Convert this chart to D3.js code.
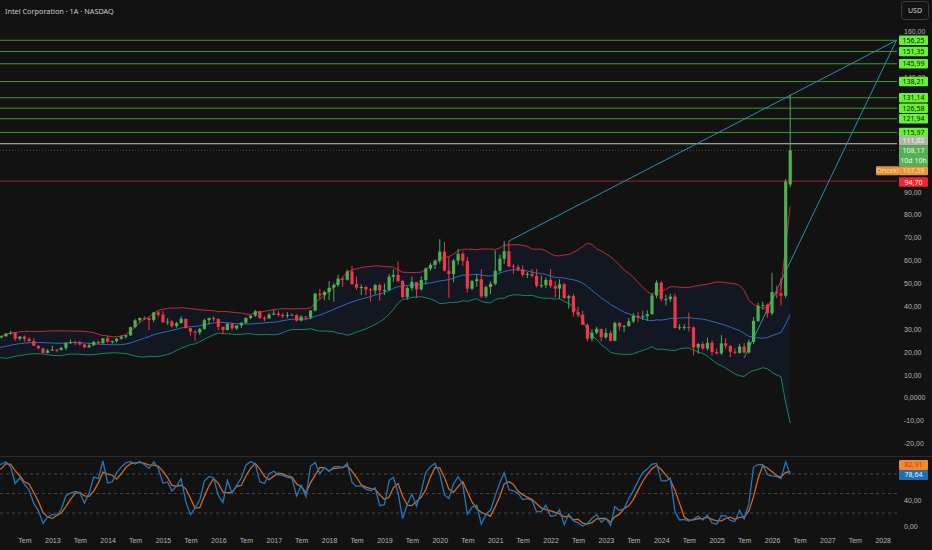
<!DOCTYPE html>
<html>
<head>
<meta charset="UTF-8">
<title>Intel Corporation · 1A · NASDAQ</title>
<script src="https://cdn.jsdelivr.net/npm/d3@7"></script>
<style>
  html, body { margin: 0; padding: 0; background: #121212; }
  svg { display: block; font-family: "Noto Sans", "Open Sans", sans-serif; }
  .axis text { fill: #b2b5be; font-size: 7px; }
  .axis path, .axis line { display: none; }
</style>
</head>
<body>
<svg width="932" height="550"></svg>
<script>
// monthly INTC candles, one row per year (2008-2011 only feed the indicators)
var years = [2008, 2009, 2010, 2011, 2012, 2013, 2014, 2015, 2016, 2017, 2018, 2019, 2020, 2021, 2022, 2023, 2024, 2025, 2026];

var opens = [
  [26.66, 21.20, 19.95, 21.18, 22.26, 23.18, 21.48, 22.19, 22.87, 18.73, 16.00, 13.80],
  [14.66, 12.90, 12.74, 15.03, 15.78, 15.72, 16.55, 19.25, 20.32, 19.57, 19.11, 19.20],
  [20.40, 19.40, 20.53, 22.29, 22.83, 21.42, 19.45, 20.60, 17.65, 19.20, 20.07, 21.15],
  [21.03, 21.46, 21.47, 20.18, 23.19, 22.51, 22.16, 22.33, 20.12, 21.34, 24.54, 24.91],
  [24.25, 26.4, 26.9, 28.1, 28.4, 25.8, 26.7, 25.7, 24.8, 22.7, 21.6, 19.6],
  [20.6, 21.0, 20.9, 21.8, 23.9, 24.3, 24.2, 23.3, 22.0, 22.9, 24.4, 23.8],
  [26.0, 24.5, 24.8, 25.8, 26.7, 27.3, 30.9, 33.9, 34.9, 34.8, 34.0, 37.3],
  [36.3, 33.0, 33.3, 31.3, 32.6, 34.5, 30.4, 28.9, 28.5, 30.1, 33.9, 34.8],
  [34.5, 31.0, 29.6, 32.4, 30.3, 31.6, 32.8, 34.9, 35.9, 37.8, 34.9, 34.7],
  [36.3, 36.8, 36.2, 36.1, 36.2, 36.1, 33.7, 35.5, 35.1, 38.1, 45.5, 44.8],
  [46.2, 48.1, 49.3, 52.1, 51.6, 55.2, 49.7, 48.1, 48.4, 47.3, 46.9, 49.3],
  [46.9, 47.1, 52.9, 53.7, 51.0, 44.0, 47.9, 50.6, 47.4, 51.5, 56.5, 58.1],
  [59.9, 63.9, 55.5, 54.1, 60.0, 62.9, 59.8, 47.7, 51.0, 51.8, 44.3, 48.4],
  [49.8, 55.5, 60.8, 64.0, 57.5, 57.1, 56.1, 53.7, 54.1, 53.3, 49.0, 49.2],
  [51.5, 48.8, 47.7, 49.6, 43.6, 44.4, 37.4, 36.3, 31.9, 25.8, 28.4, 30.1],
  [26.4, 28.3, 24.9, 32.7, 31.1, 31.4, 33.4, 35.8, 35.1, 35.6, 36.5, 44.7],
  [50.3, 43.1, 43.1, 44.2, 30.5, 30.8, 31.0, 30.7, 22.0, 23.5, 21.5, 24.0],
  [20.0, 19.4, 23.8, 22.7, 20.1, 19.6, 22.4, 19.8, 24.4, 33.6, 40.2, 40.6],
  [36.9, 46.2, 45.7, 44.6, 93.2]
];
var highs = [
  [26.8, 22.0, 21.6, 22.9, 25.3, 24.0, 23.5, 24.7, 23.2, 19.3, 16.7, 15.7],
  [15.0, 14.0, 15.4, 16.5, 16.8, 17.0, 19.3, 20.9, 20.9, 20.4, 20.2, 20.9],
  [21.3, 20.8, 22.4, 24.4, 23.1, 22.2, 22.2, 20.6, 19.4, 21.1, 21.8, 21.9],
  [22.2, 22.3, 21.9, 23.5, 24.1, 23.1, 23.4, 22.9, 22.8, 25.2, 25.8, 25.8],
  [26.9, 27.3, 28.2, 29.3, 28.6, 27.0, 27.2, 26.5, 26.1, 23.0, 21.8, 21.3],
  [22.8, 21.3, 22.3, 24.2, 25.5, 25.0, 24.9, 23.5, 23.9, 24.8, 25.0, 26.0],
  [27.1, 25.0, 26.1, 27.3, 27.5, 31.0, 34.5, 35.0, 35.6, 35.0, 37.5, 37.9],
  [37.9, 34.8, 34.0, 33.2, 35.6, 34.6, 30.6, 29.5, 30.5, 34.6, 35.0, 35.6],
  [34.6, 31.0, 32.6, 32.5, 31.7, 33.0, 35.2, 36.0, 38.4, 38.1, 35.7, 37.1],
  [38.5, 38.0, 37.0, 37.4, 37.0, 36.5, 36.0, 35.6, 38.2, 45.8, 47.6, 46.8],
  [50.9, 50.2, 53.8, 53.0, 56.0, 57.6, 53.0, 49.5, 48.9, 48.0, 49.7, 50.0],
  [49.9, 54.0, 56.2, 59.6, 51.5, 48.6, 53.0, 50.6, 53.1, 57.0, 58.9, 60.5],
  [69.3, 68.1, 61.6, 60.7, 65.1, 64.0, 61.6, 51.5, 54.0, 56.2, 49.0, 50.8],
  [64.4, 62.5, 68.5, 68.5, 58.5, 58.2, 57.8, 55.0, 56.3, 56.3, 53.5, 52.5],
  [56.3, 51.0, 51.8, 50.2, 45.0, 45.3, 39.8, 38.0, 32.5, 29.9, 31.0, 30.0],
  [30.3, 29.3, 33.2, 33.1, 31.9, 34.8, 37.0, 37.4, 37.9, 38.2, 45.7, 51.3],
  [51.0, 45.0, 45.4, 45.4, 32.1, 32.1, 37.2, 31.3, 24.0, 24.5, 26.4, 25.1],
  [21.5, 27.4, 26.0, 22.9, 21.6, 23.6, 23.9, 25.4, 35.3, 41.5, 42.0, 41.2],
  [54.6, 49.0, 52.3, 95.5, 132.5]
];
var lows = [
  [18.6, 19.6, 17.7, 20.1, 22.2, 21.0, 20.6, 21.9, 16.5, 12.1, 12.2, 12.6],
  [12.1, 12.1, 12.0, 14.7, 14.9, 15.5, 15.3, 18.9, 18.4, 18.4, 18.4, 19.1],
  [19.3, 19.0, 20.5, 22.1, 19.0, 19.3, 19.4, 17.6, 17.6, 18.9, 20.1, 20.8],
  [20.2, 21.0, 19.2, 19.4, 22.1, 21.0, 20.9, 19.2, 19.2, 20.6, 23.4, 23.1],
  [24.1, 25.9, 26.5, 27.6, 24.8, 25.0, 24.5, 24.6, 22.6, 21.2, 19.2, 19.4],
  [20.6, 19.9, 20.7, 20.8, 23.5, 23.0, 22.9, 21.9, 21.9, 22.6, 23.6, 23.6],
  [24.1, 23.6, 24.2, 25.4, 25.9, 27.0, 30.4, 32.8, 34.0, 29.5, 33.0, 35.4],
  [32.7, 31.8, 30.7, 30.6, 32.5, 30.4, 27.2, 24.9, 27.5, 29.7, 32.0, 33.4],
  [29.5, 27.7, 29.4, 29.5, 29.6, 30.5, 32.3, 34.4, 35.3, 34.4, 33.4, 34.5],
  [36.1, 35.5, 34.7, 34.8, 35.7, 33.3, 33.4, 33.8, 34.3, 37.7, 42.9, 42.7],
  [42.7, 42.0, 48.4, 48.5, 51.2, 49.3, 47.2, 44.9, 44.7, 42.0, 45.1, 42.4],
  [44.9, 46.8, 50.7, 50.5, 43.6, 42.9, 46.8, 43.6, 46.9, 49.6, 55.5, 56.2],
  [58.8, 55.2, 43.6, 50.5, 58.2, 57.6, 46.0, 47.1, 48.6, 43.6, 43.6, 45.3],
  [49.2, 54.6, 58.6, 56.9, 54.2, 55.3, 52.9, 52.3, 52.5, 48.2, 48.0, 47.9],
  [47.9, 43.8, 43.3, 43.1, 39.0, 35.5, 35.2, 31.9, 24.6, 24.6, 27.7, 24.6],
  [25.7, 24.6, 24.7, 29.3, 28.7, 31.0, 32.6, 33.0, 34.0, 33.6, 36.3, 43.5],
  [42.1, 40.3, 42.0, 30.3, 29.7, 29.6, 29.0, 18.5, 19.2, 21.0, 20.6, 18.5],
  [18.9, 18.8, 21.5, 17.7, 19.0, 19.3, 19.3, 19.3, 23.5, 33.1, 38.5, 35.0],
  [36.0, 43.5, 40.3, 43.5, 92.0]
];
var closes = [
  [21.20, 19.95, 21.18, 22.26, 23.18, 21.48, 22.19, 22.87, 18.73, 16.00, 13.80, 14.66],
  [12.90, 12.74, 15.03, 15.78, 15.72, 16.55, 19.25, 20.32, 19.57, 19.11, 19.20, 20.40],
  [19.40, 20.53, 22.29, 22.83, 21.42, 19.45, 20.60, 17.65, 19.20, 20.07, 21.15, 21.03],
  [21.46, 21.47, 20.18, 23.19, 22.51, 22.16, 22.33, 20.12, 21.34, 24.54, 24.91, 24.25],
  [26.4, 26.9, 28.1, 28.4, 25.8, 26.7, 25.7, 24.8, 22.7, 21.6, 19.6, 20.6],
  [21.0, 20.9, 21.8, 23.9, 24.3, 24.2, 23.3, 22.0, 22.9, 24.4, 23.8, 26.0],
  [24.5, 24.8, 25.8, 26.7, 27.3, 30.9, 33.9, 34.9, 34.8, 34.0, 37.3, 36.3],
  [33.0, 33.3, 31.3, 32.6, 34.5, 30.4, 28.9, 28.5, 30.1, 33.9, 34.8, 34.5],
  [31.0, 29.6, 32.4, 30.3, 31.6, 32.8, 34.9, 35.9, 37.8, 34.9, 34.7, 36.3],
  [36.8, 36.2, 36.1, 36.2, 36.1, 33.7, 35.5, 35.1, 38.1, 45.5, 44.8, 46.2],
  [48.1, 49.3, 52.1, 51.6, 55.2, 49.7, 48.1, 48.4, 47.3, 46.9, 49.3, 46.9],
  [47.1, 52.9, 53.7, 51.0, 44.0, 47.9, 50.6, 47.4, 51.5, 56.5, 58.1, 59.9],
  [63.9, 55.5, 54.1, 60.0, 62.9, 59.8, 47.7, 51.0, 51.8, 44.3, 48.4, 49.8],
  [55.5, 60.8, 64.0, 57.5, 57.1, 56.1, 53.7, 54.1, 53.3, 49.0, 49.2, 51.5],
  [48.8, 47.7, 49.6, 43.6, 44.4, 37.4, 36.3, 31.9, 25.8, 28.4, 30.1, 26.4],
  [28.3, 24.9, 32.7, 31.1, 31.4, 33.4, 35.8, 35.1, 35.6, 36.5, 44.7, 50.3],
  [43.1, 43.1, 44.2, 30.5, 30.8, 31.0, 30.7, 22.0, 23.5, 21.5, 24.0, 20.0],
  [19.4, 23.8, 22.7, 20.1, 19.6, 22.4, 19.8, 24.4, 33.6, 40.2, 40.6, 36.9],
  [46.2, 45.7, 44.6, 94.5, 108.17]
];

// horizontal levels drawn on the chart
var greenLevels = [156.25, 151.35, 145.99, 138.21, 131.14, 126.58, 121.94, 115.97];
var greyLevel = 111.02;
var lastPrice = 108.17, countdown = "10d 10h";
var prevClose = 107.59, prevText = "Önceki";
var redLevel = 94.70;

// trend lines [date, price] -> [date, price]
var trendLines = [
  [["2021-04-01", 68.5], ["2028-04-01", 156.25]],
  [["2025-07-01", 17.4], ["2028-04-01", 156.25]]
];

var priceTicks = [-20, -10, 0, 10, 20, 30, 40, 50, 60, 70, 80, 90, 140, 160];
var oscTicks = [0, 40];
var oscBands = [20, 50, 80];
var stochK = 78.64, stochD = 82.91;

var svg = d3.select("svg"),
    W = 932, H = 550,
    plotRight = 897,
    mainBottom = 456,
    oscTop = 457, oscBottom = 532;

svg.append("rect").attr("width", W).attr("height", H).attr("fill", "#121212");

var x = d3.scaleUtc()
    .domain([new Date(Date.UTC(2013, 0, 1)), new Date(Date.UTC(2028, 0, 1))])
    .range([52.3, 882.7]);
var y = d3.scaleLinear().domain([-20, 160]).range([443.5, 31.7]);
var yo = d3.scaleLinear().domain([0, 100]).range([526, 461]);

var fmt2 = function(v) { return d3.format(".2f")(v).replace("−", "-").replace(".", ","); };

// flatten data
var bars = [];
years.forEach(function(yr, i) {
  closes[i].forEach(function(c, j) {
    bars.push({ date: new Date(Date.UTC(yr, j, 1)), o: opens[i][j], h: highs[i][j], l: lows[i][j], c: c });
  });
});

// Bollinger Bands (20, 2)
bars.forEach(function(b, i) {
  if (i < 19) return;
  var win = bars.slice(i - 19, i + 1).map(function(d) { return d.c; });
  var m = d3.mean(win);
  var sd = Math.sqrt(d3.mean(win, function(v) { return (v - m) * (v - m); }));
  b.mid = m; b.up = m + 2 * sd; b.lo = m - 2 * sd;
});

// Stochastic (14, 1, 3)
bars.forEach(function(b, i) {
  if (i < 13) return;
  var win = bars.slice(i - 13, i + 1);
  var lo = d3.min(win, function(d) { return d.l; }), hi = d3.max(win, function(d) { return d.h; });
  b.k = 100 * (b.c - lo) / (hi - lo);
});
bars.forEach(function(b, i) {
  if (i >= 2 && bars[i - 2].k != null) b.d = (b.k + bars[i - 1].k + bars[i - 2].k) / 3;
});

// clip regions
var defs = svg.append("defs");
defs.append("clipPath").attr("id", "clipMain").append("rect")
    .attr("x", 0).attr("y", 0).attr("width", plotRight).attr("height", mainBottom);
defs.append("clipPath").attr("id", "clipOsc").append("rect")
    .attr("x", 0).attr("y", oscTop).attr("width", plotRight).attr("height", oscBottom - oscTop);

var main = svg.append("g").attr("clip-path", "url(#clipMain)");

// Bollinger fill + lines
var bb = bars.filter(function(d) { return d.mid != null; });
main.append("path")
    .datum(bb)
    .attr("fill", "rgba(41,98,255,0.07)")
    .attr("d", d3.area().x(function(d) { return x(d.date); })
        .y0(function(d) { return y(d.lo); }).y1(function(d) { return y(d.up); }));
[["up", "#c62a3c"], ["mid", "#2b6cc0"], ["lo", "#11876a"]].forEach(function(s) {
  main.append("path")
      .datum(bb)
      .attr("fill", "none")
      .attr("stroke", s[1])
      .attr("stroke-width", 1)
      .attr("d", d3.line().x(function(d) { return x(d.date); }).y(function(d) { return y(d[s[0]]); }));
});

// horizontal levels
greenLevels.forEach(function(v) {
  main.append("line").attr("x1", 0).attr("x2", plotRight)
      .attr("y1", y(v)).attr("y2", y(v))
      .attr("stroke", "#3f9a22").attr("stroke-width", 1);
});
main.append("line").attr("x1", 0).attr("x2", plotRight)
    .attr("y1", y(greyLevel)).attr("y2", y(greyLevel))
    .attr("stroke", "#c8c8c8").attr("stroke-width", 1);
main.append("line").attr("x1", 0).attr("x2", plotRight)
    .attr("y1", y(lastPrice)).attr("y2", y(lastPrice))
    .attr("stroke", "#4a5a30").attr("stroke-width", 1).attr("stroke-dasharray", "1,2");
main.append("line").attr("x1", 0).attr("x2", plotRight)
    .attr("y1", y(redLevel)).attr("y2", y(redLevel))
    .attr("stroke", "#a8202c").attr("stroke-width", 1);

// trend lines
trendLines.forEach(function(t) {
  main.append("line")
      .attr("x1", x(new Date(t[0][0]))).attr("y1", y(t[0][1]))
      .attr("x2", x(new Date(t[1][0]))).attr("y2", y(t[1][1]))
      .attr("stroke", "#2590b0").attr("stroke-width", 1);
});

// candles
var up = "#4caf50", downC = "#f23645", bw = 3.2;
var candles = main.append("g").selectAll("g").data(bars).enter().append("g");
candles.append("line")
    .attr("x1", function(d) { return x(d.date); }).attr("x2", function(d) { return x(d.date); })
    .attr("y1", function(d) { return y(d.h); }).attr("y2", function(d) { return y(d.l); })
    .attr("stroke", function(d) { return d.c >= d.o ? up : downC; })
    .attr("stroke-width", 1);
candles.append("rect")
    .attr("x", function(d) { return x(d.date) - bw / 2; })
    .attr("width", bw)
    .attr("y", function(d) { return y(Math.max(d.o, d.c)); })
    .attr("height", function(d) { return Math.max(1, Math.abs(y(d.o) - y(d.c))); })
    .attr("fill", function(d) { return d.c >= d.o ? up : downC; });

// separator between panes
svg.append("line").attr("x1", 0).attr("x2", W).attr("y1", 456.5).attr("y2", 456.5)
    .attr("stroke", "#2a2a2a");

// oscillator pane
var osc = svg.append("g").attr("clip-path", "url(#clipOsc)");
oscBands.forEach(function(v) {
  osc.append("line").attr("x1", 0).attr("x2", plotRight)
      .attr("y1", yo(v)).attr("y2", yo(v))
      .attr("stroke", "#444").attr("stroke-dasharray", "3,3");
});
var kd = bars.filter(function(d) { return d.d != null; });
[["d", "#d8661e"], ["k", "#2278bd"]].forEach(function(s) {
  osc.append("path")
      .datum(kd)
      .attr("fill", "none")
      .attr("stroke", s[1])
      .attr("stroke-width", 1.3)
      .attr("d", d3.line().x(function(d) { return x(d.date); }).y(function(d) { return yo(d[s[0]]); }));
});

// axes
svg.append("g").attr("class", "axis")
    .attr("transform", "translate(" + plotRight + ",0)")
    .call(d3.axisRight(y).tickValues(priceTicks).tickSize(0).tickPadding(7)
        .tickFormat(function(d) { return d === 0 ? "0,0000" : fmt2(d); }));
svg.append("g").attr("class", "axis")
    .attr("transform", "translate(" + plotRight + ",0)")
    .call(d3.axisRight(yo).tickValues(oscTicks).tickSize(0).tickPadding(7).tickFormat(fmt2));
svg.append("g").attr("class", "axis")
    .attr("transform", "translate(0," + (oscBottom + 2) + ")")
    .call(d3.axisBottom(x)
        .tickValues(d3.utcMonth.every(6).range(new Date(Date.UTC(2012, 6, 1)), new Date(Date.UTC(2028, 1, 1))))
        .tickSize(0).tickPadding(4)
        .tickFormat(function(d) { return d.getUTCMonth() === 0 ? d.getUTCFullYear() : "Tem"; }));

// price tags on the right scale
function tag(xl, yc, w, h, bg, fg, text) {
  var g = svg.append("g");
  g.append("rect").attr("x", xl).attr("y", yc - h / 2).attr("width", w).attr("height", h)
      .attr("fill", bg).attr("rx", 1);
  g.append("text").attr("x", xl + w / 2).attr("y", yc).attr("dy", "0.35em")
      .attr("text-anchor", "middle").attr("font-size", 7).attr("fill", fg).text(text);
  return g;
}
greenLevels.forEach(function(v) { tag(899, y(v), 29, 9.5, "#66f233", "#0e1a08", fmt2(v)); });
tag(899, y(greyLevel) - 3, 29, 9.5, "#b4b4aa", "#f6f6f6", fmt2(greyLevel));

var lp = svg.append("g");
lp.append("rect").attr("x", 899).attr("y", y(lastPrice) - 5).attr("width", 29).attr("height", 21)
    .attr("fill", "#54b054");
lp.append("text").attr("x", 913.5).attr("y", y(lastPrice)).attr("dy", "0.35em")
    .attr("text-anchor", "middle").attr("font-size", 7).attr("fill", "#e9fbe9").text(fmt2(lastPrice));
lp.append("text").attr("x", 913.5).attr("y", y(lastPrice) + 10).attr("dy", "0.35em")
    .attr("text-anchor", "middle").attr("font-size", 7).attr("fill", "#e9fbe9").text(countdown);

tag(876, y(lastPrice) + 20.5, 23, 9, "#e38f3a", "#fbd7a0", prevText);
tag(899, y(lastPrice) + 20.5, 29, 9, "#e8963f", "#fbd7a0", fmt2(prevClose));
tag(899, y(redLevel) + 1, 29, 9.5, "#f0262f", "#ffe6e6", fmt2(redLevel));

tag(899, yo(stochK) - 10, 29, 10, "#ef8b2c", "#d8301e", fmt2(stochD));
tag(899, yo(stochK), 29, 10, "#1f6fae", "#e8f4ff", fmt2(stochK));

// title and currency button
svg.append("text").attr("x", 5).attr("y", 11).attr("dy", "0.35em")
    .attr("font-size", 7.3).attr("fill", "#c8cad0")
    .text("Intel Corporation · 1A · NASDAQ");
svg.append("rect").attr("x", 901.5).attr("y", 1.5).attr("width", 27).attr("height", 18).attr("rx", 3)
    .attr("fill", "none").attr("stroke", "#3a3a3a");
svg.append("text").attr("x", 915).attr("y", 10.5).attr("dy", "0.35em").attr("text-anchor", "middle")
    .attr("font-size", 7).attr("fill", "#d1d4dc").text("USD");
</script>
</body>
</html>
